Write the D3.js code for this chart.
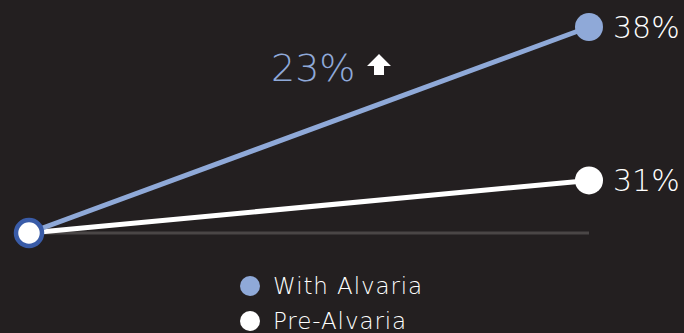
<!DOCTYPE html>
<html>
<head>
<meta charset="utf-8">
<script src="https://cdn.jsdelivr.net/npm/d3@7"></script>
<style>
  html, body { margin: 0; padding: 0; background: #231f20; }
  svg { display: block; font-family: "DejaVu Sans", sans-serif; }
</style>
</head>
<body>
<div id="chart"></div>
<script>
// values
const stages = ['Before', 'After']
const withAlvaria = [28.6, 38]
const preAlvaria = [28.6, 31]
const seriesNames = ['With Alvaria', 'Pre-Alvaria']
const uplift = '23%'

const W = 684, H = 333
const BLUE = '#8fa9d8'
const WHITE = '#ffffff'

const svg = d3.select('#chart').append('svg')
    .attr('width', W)
    .attr('height', H)

const x = d3.scalePoint().domain(stages).range([29, 589])
const y = d3.scaleLinear().domain([28.6, 38]).range([233, 27])

// baseline
svg.append('line')
    .attr('x1', x(stages[0])).attr('x2', x(stages[1]))
    .attr('y1', y(28.6)).attr('y2', y(28.6))
    .attr('stroke', '#4a4646')
    .attr('stroke-width', 3)

const series = [
  { name: seriesNames[0], values: withAlvaria, color: BLUE },
  { name: seriesNames[1], values: preAlvaria, color: WHITE }
]

const line = d3.line()
    .x((d, i) => x(stages[i]))
    .y(d => y(d))

// white first so blue sits on top
series.slice().reverse().forEach(s => {
  svg.append('path')
      .datum(s.values)
      .attr('d', line)
      .attr('fill', 'none')
      .attr('stroke', s.color)
      .attr('stroke-width', 5)
})

// end points + labels
series.forEach(s => {
  const v = s.values[1]
  svg.append('circle')
      .attr('cx', x(stages[1])).attr('cy', y(v))
      .attr('r', 14)
      .attr('fill', s.color)
  svg.append('text')
      .attr('x', x(stages[1]) + 24)
      .attr('y', y(v) + 11)
      .attr('fill', WHITE)
      .attr('font-size', 30)
      .attr('font-weight', 200)
      .text(v + '%')
})

// shared start point
svg.append('circle')
    .attr('cx', x(stages[0])).attr('cy', y(withAlvaria[0]))
    .attr('r', 13)
    .attr('fill', WHITE)
    .attr('stroke', '#3a5ca8')
    .attr('stroke-width', 4.5)

// uplift label
svg.append('text')
    .attr('x', 271)
    .attr('y', 81)
    .attr('fill', BLUE)
    .attr('font-size', 38)
    .attr('font-weight', 200)
    .text(uplift)

svg.append('path')
    .attr('d', 'M379,54 L391,66 L384,66 L384,75 L374,75 L374,66 L367,66 Z')
    .attr('fill', WHITE)

// legend
const legend = svg.append('g')
series.forEach((s, i) => {
  const g = legend.append('g').attr('transform', `translate(250,${286 + i * 35})`)
  g.append('circle').attr('r', 10).attr('fill', s.color)
  g.append('text')
      .attr('x', 23).attr('y', 8)
      .attr('fill', WHITE)
      .attr('font-size', 23)
      .attr('font-weight', 200)
      .attr('letter-spacing', 0.9)
      .text(s.name)
})
</script>
</body>
</html>
